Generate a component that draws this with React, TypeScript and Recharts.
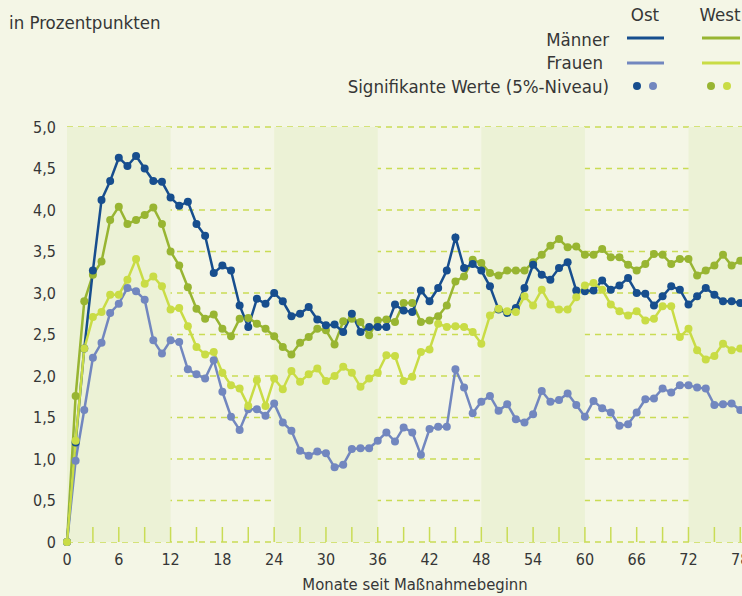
import { LineChart, Line, XAxis, YAxis, CartesianGrid, ReferenceArea } from "recharts";

// Effekte in Prozentpunkten, Monat 0 bis 78
const ostMaenner = [
  0, 1.2, 2.33, 3.27, 4.12, 4.35, 4.63, 4.53, 4.65, 4.5, 4.35, 4.34, 4.15, 4.05, 4.1, 3.83, 3.69, 3.24, 3.33, 3.27,
  2.85, 2.59, 2.93, 2.87, 3.0, 2.9, 2.72, 2.75, 2.83, 2.68, 2.61, 2.62, 2.53, 2.75, 2.53, 2.59, 2.59, 2.59, 2.86, 2.79,
  2.77, 3.03, 2.9, 3.06, 3.27, 3.67, 3.3, 3.35, 3.27, 3.08, 2.8, 2.76, 2.82, 3.06, 3.34, 3.22, 3.16, 3.3, 3.37, 3.03,
  3.02, 3.03, 3.15, 3.04, 3.09, 3.18, 3.0, 2.99, 2.85, 2.96, 3.08, 3.04, 2.86, 2.96, 3.06, 2.98, 2.9, 2.9, 2.88,
];
const ostFrauen = [
  0, 0.98, 1.59, 2.22, 2.4, 2.76, 2.87, 3.06, 3.02, 2.92, 2.43, 2.27, 2.43, 2.41, 2.08, 2.02, 1.97, 2.19, 1.81, 1.51,
  1.35, 1.6, 1.6, 1.52, 1.67, 1.44, 1.34, 1.1, 1.04, 1.09, 1.07, 0.9, 0.93, 1.12, 1.13, 1.13, 1.22, 1.32, 1.21, 1.38,
  1.32, 1.05, 1.36, 1.39, 1.39, 2.08, 1.86, 1.55, 1.69, 1.76, 1.58, 1.66, 1.48, 1.44, 1.54, 1.82, 1.69, 1.71, 1.79, 1.65,
  1.51, 1.7, 1.61, 1.56, 1.4, 1.42, 1.56, 1.72, 1.73, 1.85, 1.8, 1.89, 1.89, 1.86, 1.85, 1.65, 1.66, 1.67, 1.59,
];
const westMaenner = [
  0, 1.76, 2.9, 3.22, 3.38, 3.88, 4.04, 3.83, 3.88, 3.94, 4.03, 3.83, 3.5, 3.33, 3.07, 2.81, 2.69, 2.74, 2.57, 2.48,
  2.69, 2.7, 2.63, 2.57, 2.48, 2.35, 2.26, 2.4, 2.47, 2.57, 2.55, 2.38, 2.66, 2.69, 2.65, 2.49, 2.67, 2.68, 2.65, 2.88,
  2.88, 2.65, 2.67, 2.72, 2.85, 3.14, 3.2, 3.4, 3.36, 3.24, 3.21, 3.27, 3.27, 3.27, 3.37, 3.46, 3.57, 3.65, 3.55, 3.56,
  3.46, 3.46, 3.53, 3.43, 3.43, 3.34, 3.27, 3.35, 3.47, 3.46, 3.35, 3.41, 3.41, 3.21, 3.27, 3.33, 3.46, 3.33, 3.39,
];
const westFrauen = [
  0, 1.22, 2.33, 2.71, 2.77, 2.98, 2.98, 3.16, 3.41, 3.11, 3.2, 3.08, 2.8, 2.82, 2.6, 2.35, 2.26, 2.29, 2.04, 1.89,
  1.85, 1.64, 1.95, 1.64, 1.97, 1.84, 2.06, 1.93, 2.02, 2.09, 1.94, 2.0, 2.11, 2.04, 1.87, 1.97, 2.04, 2.25, 2.24, 1.94,
  1.99, 2.29, 2.32, 2.63, 2.59, 2.6, 2.59, 2.53, 2.39, 2.73, 2.81, 2.78, 2.77, 2.96, 2.85, 3.04, 2.86, 2.8, 2.8, 2.95,
  3.09, 3.12, 3.04, 2.86, 2.78, 2.73, 2.78, 2.67, 2.69, 2.84, 2.84, 2.47, 2.57, 2.31, 2.2, 2.24, 2.39, 2.31, 2.33,
];

const xTicks = [0, 3, 6, 9, 12, 15, 18, 21, 24, 27, 30, 33, 36, 39, 42, 45, 48, 51, 54, 57, 60, 63, 66, 69, 72, 75, 78];
const yTicks = [0, 0.5, 1, 1.5, 2, 2.5, 3, 3.5, 4, 4.5, 5];
const bands = [
  [0, 12],
  [24, 36],
  [48, 60],
  [72, 78.2],
];

const FONT = "'DejaVu Sans Condensed', 'Liberation Sans Narrow', sans-serif";
const TEXT = "#363636";
const BG = "#f4f6e6";
const BAND = "#ecf2d6";
const GRID = "#c9dc55";
const OST_M = "#174e8e";
const OST_F = "#7287bf";
const WEST_M = "#98b532";
const WEST_F = "#c9dc45";

const data = ostMaenner.map((v, i) => ({
  month: i,
  ostM: v,
  ostF: ostFrauen[i],
  westM: westMaenner[i],
  westF: westFrauen[i],
}));

function formatY(v: number) {
  return v === 0 ? "0" : v.toFixed(1).replace(".", ",");
}

function MonthTick({ x, y, payload }: any) {
  const m = payload.value;
  return (
    <g>
      {m > 0 && <line x1={x} x2={x} y1={y - 15} y2={y} stroke={GRID} strokeWidth={1.5} />}
      {m % 6 === 0 && (
        <text x={x} y={y + 23} textAnchor="middle" fill={TEXT} fontSize={16} fontFamily={FONT}>
          {m}
        </text>
      )}
    </g>
  );
}

function Legend() {
  return (
    <svg width={742} height={110} style={{ position: "absolute", left: 0, top: 0 }}>
      <g fontFamily={FONT} fontSize={18.5} fill={TEXT}>
        <text x={9} y={29}>in Prozentpunkten</text>
        <text x={645} y={21} textAnchor="middle">Ost</text>
        <text x={720} y={21} textAnchor="middle">West</text>
        <text x={609} y={46} textAnchor="end">Männer</text>
        <text x={603} y={69} textAnchor="end">Frauen</text>
        <text x={609} y={93} textAnchor="end">Signifikante Werte (5%-Niveau)</text>
      </g>
      <line x1={627} x2={664} y1={38} y2={38} stroke={OST_M} strokeWidth={3} />
      <line x1={702} x2={740} y1={38} y2={38} stroke={WEST_M} strokeWidth={3} />
      <line x1={627} x2={664} y1={63} y2={63} stroke={OST_F} strokeWidth={3} />
      <line x1={702} x2={740} y1={63} y2={63} stroke={WEST_F} strokeWidth={3} />
      <circle cx={637} cy={86} r={4} fill={OST_M} />
      <circle cx={653} cy={86} r={4} fill={OST_F} />
      <circle cx={711} cy={86} r={4} fill={WEST_M} />
      <circle cx={727} cy={86} r={4} fill={WEST_F} />
    </svg>
  );
}

export default function App() {
  const series = [
    { key: "westM", color: WEST_M },
    { key: "ostM", color: OST_M },
    { key: "ostF", color: OST_F },
    { key: "westF", color: WEST_F },
  ];
  return (
    <div style={{ position: "fixed", left: 0, top: 0, width: 742, height: 596, background: BG, overflow: "hidden" }}>
      <LineChart width={742} height={596} data={data} margin={{ top: 127, right: 0, bottom: 24, left: 7 }}>
        {bands.map(([a, b]) => (
          <ReferenceArea key={a} x1={a} x2={b} y1={0} y2={5} fill={BAND} fillOpacity={1} stroke="none" />
        ))}
        <CartesianGrid vertical={false} stroke={GRID} strokeDasharray="6 5" strokeWidth={1.3} />
        <XAxis
          dataKey="month"
          type="number"
          domain={[0, 78.2]}
          ticks={xTicks}
          interval={0}
          height={30}
          axisLine={false}
          tickLine={false}
          tickSize={0}
          tickMargin={0}
          tick={<MonthTick />}
        />
        <YAxis
          domain={[0, 5]}
          ticks={yTicks}
          width={60}
          axisLine={false}
          tickLine={false}
          tickSize={0}
          tickMargin={11}
          tickFormatter={formatY}
          tick={{ fill: TEXT, fontSize: 16, fontFamily: FONT }}
        />
        {series.map((s) => (
          <Line
            key={s.key}
            dataKey={s.key}
            type="linear"
            stroke={s.color}
            strokeWidth={2.5}
            dot={{ r: 4, fill: s.color, stroke: "none" }}
            activeDot={false}
            isAnimationActive={false}
          />
        ))}
      </LineChart>
      <Legend />
      <div
        style={{
          position: "absolute",
          left: 215,
          width: 400,
          top: 575,
          lineHeight: "20px",
          textAlign: "center",
          fontFamily: FONT,
          fontSize: 16.5,
          color: TEXT,
        }}
      >
        Monate seit Maßnahmebeginn
      </div>
    </div>
  );
}
